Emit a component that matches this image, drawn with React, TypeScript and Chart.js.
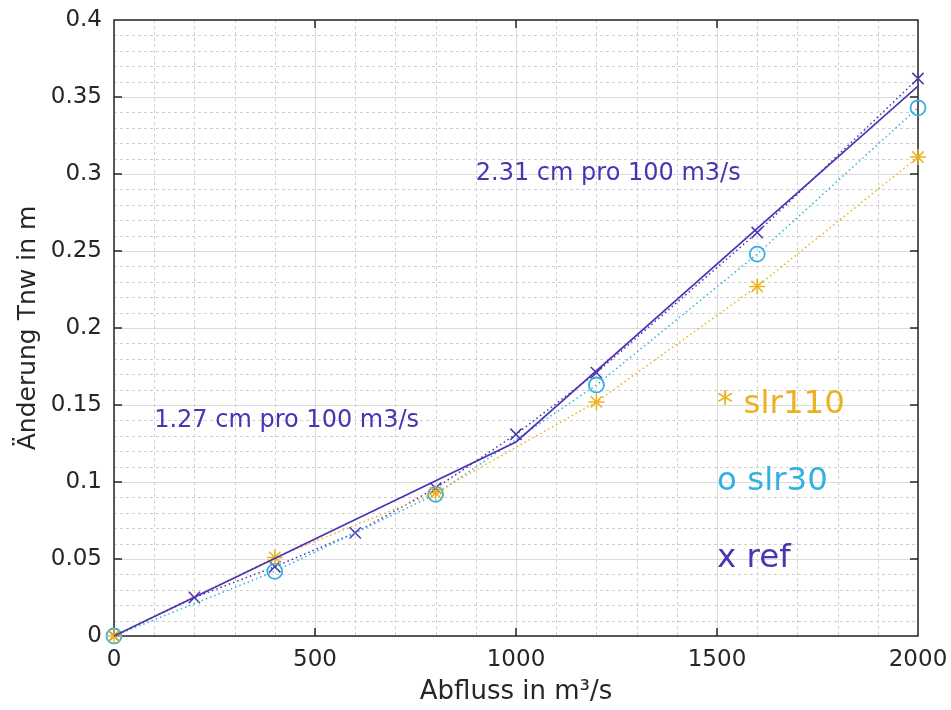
import React, { useEffect, useRef } from "react";
import { Chart, registerables } from "chart.js";

Chart.register(...registerables);

// ---- data ----
const refFlow = [0, 200, 400, 600, 800, 1000, 1200, 1600, 2000];
const refValues = [0, 0.025, 0.045, 0.067, 0.096, 0.131, 0.171, 0.262, 0.362];
const slrFlow = [0, 400, 800, 1200, 1600, 2000];
const slr30Values = [0, 0.042, 0.092, 0.163, 0.248, 0.343];
const slr110Values = [0, 0.051, 0.093, 0.152, 0.227, 0.311];
const fitFlow = [0, 1000, 2000];
const fitValues = [0, 0.126, 0.357];

const xTickStep = 500;
const yTickStep = 0.05;
const xMinorStep = 100;
const yMinorStep = 0.01;

const xTitle = "Abfluss in m³/s";
const yTitle = "Änderung Tnw in m";

const annotations = [
  { text: "1.27 cm pro 100 m3/s", x: 100, y: 0.14, size: 24, color: "#4B33B3" },
  { text: "2.31 cm pro 100 m3/s", x: 900, y: 0.3, size: 24, color: "#4B33B3" },
  { text: "* slr110", x: 1500, y: 0.15, size: 32.5, color: "#EDB120" },
  { text: "o slr30", x: 1500, y: 0.1, size: 32.5, color: "#33B1E3" },
  { text: "x ref", x: 1500, y: 0.05, size: 32.5, color: "#4B33B3" },
];

const PURPLE = "#4B33B3";
const CYAN = "#33B1E3";
const YELLOW = "#EDB120";
const AXIS = "#262626";
const FONT = "'DejaVu Sans', sans-serif";

const pts = (xs: number[], ys: number[]) => xs.map((x, i) => ({ x, y: ys[i] }));

const matlabPlugin = {
  id: "matlabLook",
  beforeDatasetsDraw(chart: any) {
    const { ctx, chartArea: a, scales } = chart;
    const x = scales.x;
    const y = scales.y;
    ctx.save();
    // minor grid
    ctx.strokeStyle = "#cfcfcf";
    ctx.lineWidth = 1;
    ctx.setLineDash([3, 3]);
    const nx = Math.round((x.max - x.min) / xMinorStep);
    const ratioX = Math.round(xTickStep / xMinorStep);
    for (let i = 1; i < nx; i++) {
      if (i % ratioX === 0) continue;
      const px = Math.round(x.getPixelForValue(x.min + i * xMinorStep)) + 0.5;
      ctx.beginPath();
      ctx.moveTo(px, a.top);
      ctx.lineTo(px, a.bottom);
      ctx.stroke();
    }
    const ny = Math.round((y.max - y.min) / yMinorStep);
    const ratioY = Math.round(yTickStep / yMinorStep);
    for (let i = 1; i < ny; i++) {
      if (i % ratioY === 0) continue;
      const py = Math.round(y.getPixelForValue(y.min + i * yMinorStep)) + 0.5;
      ctx.beginPath();
      ctx.moveTo(a.left, py);
      ctx.lineTo(a.right, py);
      ctx.stroke();
    }
    ctx.setLineDash([]);
    // box
    ctx.strokeStyle = AXIS;
    ctx.lineWidth = 1.5;
    ctx.strokeRect(a.left, a.top, a.right - a.left, a.bottom - a.top);
    // inward ticks on all four sides
    const tl = 8;
    ctx.lineWidth = 1.5;
    const mx = Math.round((x.max - x.min) / xTickStep);
    for (let i = 1; i < mx; i++) {
      const px = x.getPixelForValue(x.min + i * xTickStep);
      ctx.beginPath();
      ctx.moveTo(px, a.bottom);
      ctx.lineTo(px, a.bottom - tl);
      ctx.moveTo(px, a.top);
      ctx.lineTo(px, a.top + tl);
      ctx.stroke();
    }
    const my = Math.round((y.max - y.min) / yTickStep);
    for (let i = 1; i < my; i++) {
      const py = y.getPixelForValue(y.min + i * yTickStep);
      ctx.beginPath();
      ctx.moveTo(a.left, py);
      ctx.lineTo(a.left + tl, py);
      ctx.moveTo(a.right, py);
      ctx.lineTo(a.right - tl, py);
      ctx.stroke();
    }
    ctx.restore();
  },
  afterDatasetsDraw(chart: any) {
    const { ctx, scales } = chart;
    const x = scales.x;
    const y = scales.y;
    ctx.save();
    ctx.textAlign = "left";
    ctx.textBaseline = "middle";
    for (const t of annotations) {
      ctx.font = `${t.size}px ${FONT}`;
      ctx.fillStyle = t.color;
      ctx.fillText(t.text, x.getPixelForValue(t.x), y.getPixelForValue(t.y));
    }
    ctx.restore();
  },
};

export default function App() {
  const ref = useRef<HTMLCanvasElement | null>(null);

  useEffect(() => {
    if (!ref.current) return;
    const chart = new Chart(ref.current, {
      type: "line",
      data: {
        datasets: [
          {
            label: "fit",
            data: pts(fitFlow, fitValues),
            borderColor: PURPLE,
            borderWidth: 1.6,
            pointRadius: 0,
            clip: false,
            order: 0,
          },
          {
            label: "slr110",
            data: pts(slrFlow, slr110Values),
            borderColor: YELLOW,
            borderWidth: 1.5,
            borderDash: [1.5, 3],
            pointStyle: "star",
            pointRadius: 8,
            pointBorderWidth: 1.5,
            pointBorderColor: YELLOW,
            pointBackgroundColor: YELLOW,
            clip: false,
            order: 1,
          },
          {
            label: "slr30",
            data: pts(slrFlow, slr30Values),
            borderColor: CYAN,
            borderWidth: 1.5,
            borderDash: [1.5, 3],
            pointStyle: "circle",
            pointRadius: 7.5,
            pointBorderWidth: 1.8,
            pointBorderColor: CYAN,
            pointBackgroundColor: "rgba(0,0,0,0)",
            clip: false,
            order: 2,
          },
          {
            label: "ref",
            data: pts(refFlow, refValues),
            borderColor: PURPLE,
            borderWidth: 1.5,
            borderDash: [1.5, 3],
            pointStyle: "crossRot",
            pointRadius: 8,
            pointBorderWidth: 1.5,
            pointBorderColor: PURPLE,
            pointBackgroundColor: PURPLE,
            clip: false,
            order: 3,
          },
        ],
      },
      options: {
        responsive: false,
        animation: false,
        layout: { padding: { top: 20, right: 33, left: 0, bottom: 0 } },
        plugins: { legend: { display: false }, tooltip: { enabled: false } },
        scales: {
          x: {
            type: "linear",
            min: 0,
            max: 2000,
            afterFit: (s: any) => {
              s.height = 74;
              s.paddingLeft = 0;
              s.paddingRight = 0;
            },
            ticks: {
              stepSize: xTickStep,
              color: AXIS,
              padding: 10,
              maxRotation: 0,
              font: { family: FONT, size: 23 },
              callback: (v: any) => String(v),
            },
            grid: { color: "#dcdcdc", lineWidth: 1, drawTicks: false },
            border: { display: false },
            title: {
              display: true,
              text: xTitle,
              color: AXIS,
              font: { family: FONT, size: 26 },
              padding: { top: 0, bottom: 2 },
            },
          },
          y: {
            type: "linear",
            min: 0,
            max: 0.4,
            afterFit: (s: any) => {
              s.width = 114;
              s.paddingTop = 0;
              s.paddingBottom = 0;
            },
            ticks: {
              stepSize: yTickStep,
              color: AXIS,
              padding: 12,
              font: { family: FONT, size: 23 },
              callback: (v: any) => String(Number(Number(v).toFixed(2))),
            },
            grid: { color: "#dcdcdc", lineWidth: 1, drawTicks: false },
            border: { display: false },
            title: {
              display: true,
              text: yTitle,
              color: AXIS,
              font: { family: FONT, size: 25 },
              padding: { top: 13, bottom: 0 },
            },
          },
        },
      },
      plugins: [matlabPlugin],
    } as any);
    return () => chart.destroy();
  }, []);

  return (
    <div style={{ position: "fixed", left: 0, top: 0, width: 951, height: 710, background: "#fff" }}>
      <canvas ref={ref} width={951} height={710} style={{ display: "block" }} />
    </div>
  );
}
